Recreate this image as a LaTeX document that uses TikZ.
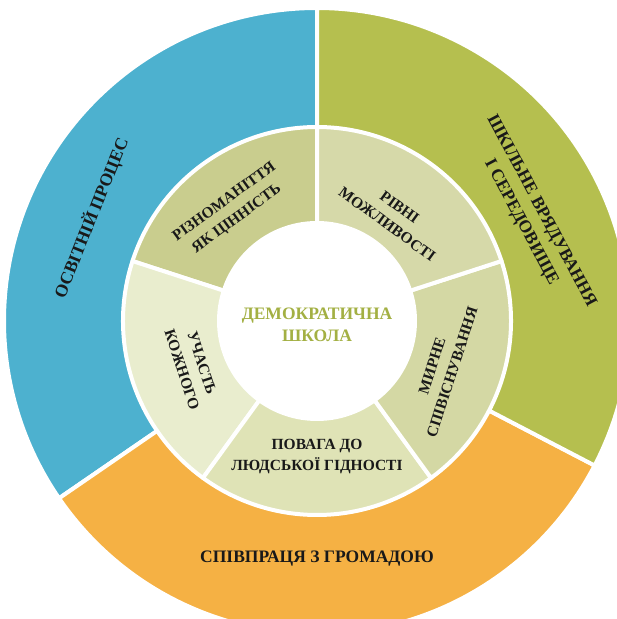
\documentclass[tikz,border=0pt]{standalone}
\usepackage{fontspec}
\setmainfont{Liberation Serif}
\definecolor{cblue}{HTML}{4DB1CF}
\definecolor{cgreen}{HTML}{B5BF4F}
\definecolor{corange}{HTML}{F5B144}
\definecolor{cs1}{HTML}{C9CD8E}
\definecolor{cs2}{HTML}{D6D9A9}
\definecolor{cs3}{HTML}{D4D8A4}
\definecolor{cs4}{HTML}{DFE3B6}
\definecolor{cs5}{HTML}{E9EDCE}
\definecolor{ctext}{HTML}{A3B043}
\begin{document}
\begin{tikzpicture}[x=1pt,y=1pt,
  region/.style={draw=white,line width=4pt,line join=round},
  outerlbl/.style={font=\bfseries\fontsize{17.5}{23}\selectfont,align=center,text=black!90,inner sep=0pt},
  innerlbl/.style={font=\bfseries\fontsize{15.5}{21}\selectfont,align=center,text=black!90,inner sep=0pt},
  centerlbl/.style={font=\bfseries\fontsize{17.5}{22}\selectfont,align=center,text=ctext,inner sep=0pt}]
\useasboundingbox (0,0) rectangle (617,619);
\clip (0,0) rectangle (617,619);
\fill[white] (0,0) rectangle (617,619);
\begin{scope}[shift={(317,298)}]
\def\Ro{313}\def\Rm{194}\def\Ri{98}
% outer ring
\path[region,fill=cblue] (0,0) -- (90:\Ro) arc[start angle=90,end angle=214.5,radius=\Ro] -- cycle;
\path[region,fill=corange] (0,0) -- (214.5:\Ro) arc[start angle=214.5,end angle=332.5,radius=\Ro] -- cycle;
\path[region,fill=cgreen] (0,0) -- (-27.5:\Ro) arc[start angle=-27.5,end angle=90,radius=\Ro] -- cycle;
% middle ring
\path[region,fill=cs1] (0,0) -- (90:\Rm) arc[start angle=90,end angle=162,radius=\Rm] -- cycle;
\path[region,fill=cs5] (0,0) -- (162:\Rm) arc[start angle=162,end angle=234,radius=\Rm] -- cycle;
\path[region,fill=cs4] (0,0) -- (234:\Rm) arc[start angle=234,end angle=306,radius=\Rm] -- cycle;
\path[region,fill=cs3] (0,0) -- (-54:\Rm) arc[start angle=-54,end angle=18,radius=\Rm] -- cycle;
\path[region,fill=cs2] (0,0) -- (18:\Rm) arc[start angle=18,end angle=90,radius=\Rm] -- cycle;
% center
\path[region,fill=white] (0,0) circle[radius=\Ri];
% labels
\node[centerlbl] (c) at (0,-4) {ДЕМОКРАТИЧНА\\ШКОЛА};
\node[innerlbl,rotate=36] (s1) at (128:140) {РІЗНОМАНІТТЯ\\ЯК ЦІННІСТЬ};
\node[innerlbl,rotate=-36] (s2) at (54:130) {РІВНІ\\МОЖЛИВОСТІ};
\node[innerlbl,rotate=72] (s3) at (-21:134) {МИРНЕ\\СПІВІСНУВАННЯ};
\node[innerlbl] (s4) at (-90:136) {ПОВАГА ДО\\ЛЮДСЬКОЇ ГІДНОСТІ};
\node[innerlbl,rotate=-72] (s5) at (200:133) {УЧАСТЬ\\КОЖНОГО};
\node[outerlbl,rotate=68] (o1) at (155.5:248) {ОСВІТНІЙ ПРОЦЕС};
\node[outerlbl,rotate=-62] (o2) at (26:238) {ШКІЛЬНЕ ВРЯДУВАННЯ\\І СЕРЕДОВИЩЕ};
\node[outerlbl] (o3) at (0,-238) {СПІВПРАЦЯ З ГРОМАДОЮ};
\end{scope}
\end{tikzpicture}
\end{document}
